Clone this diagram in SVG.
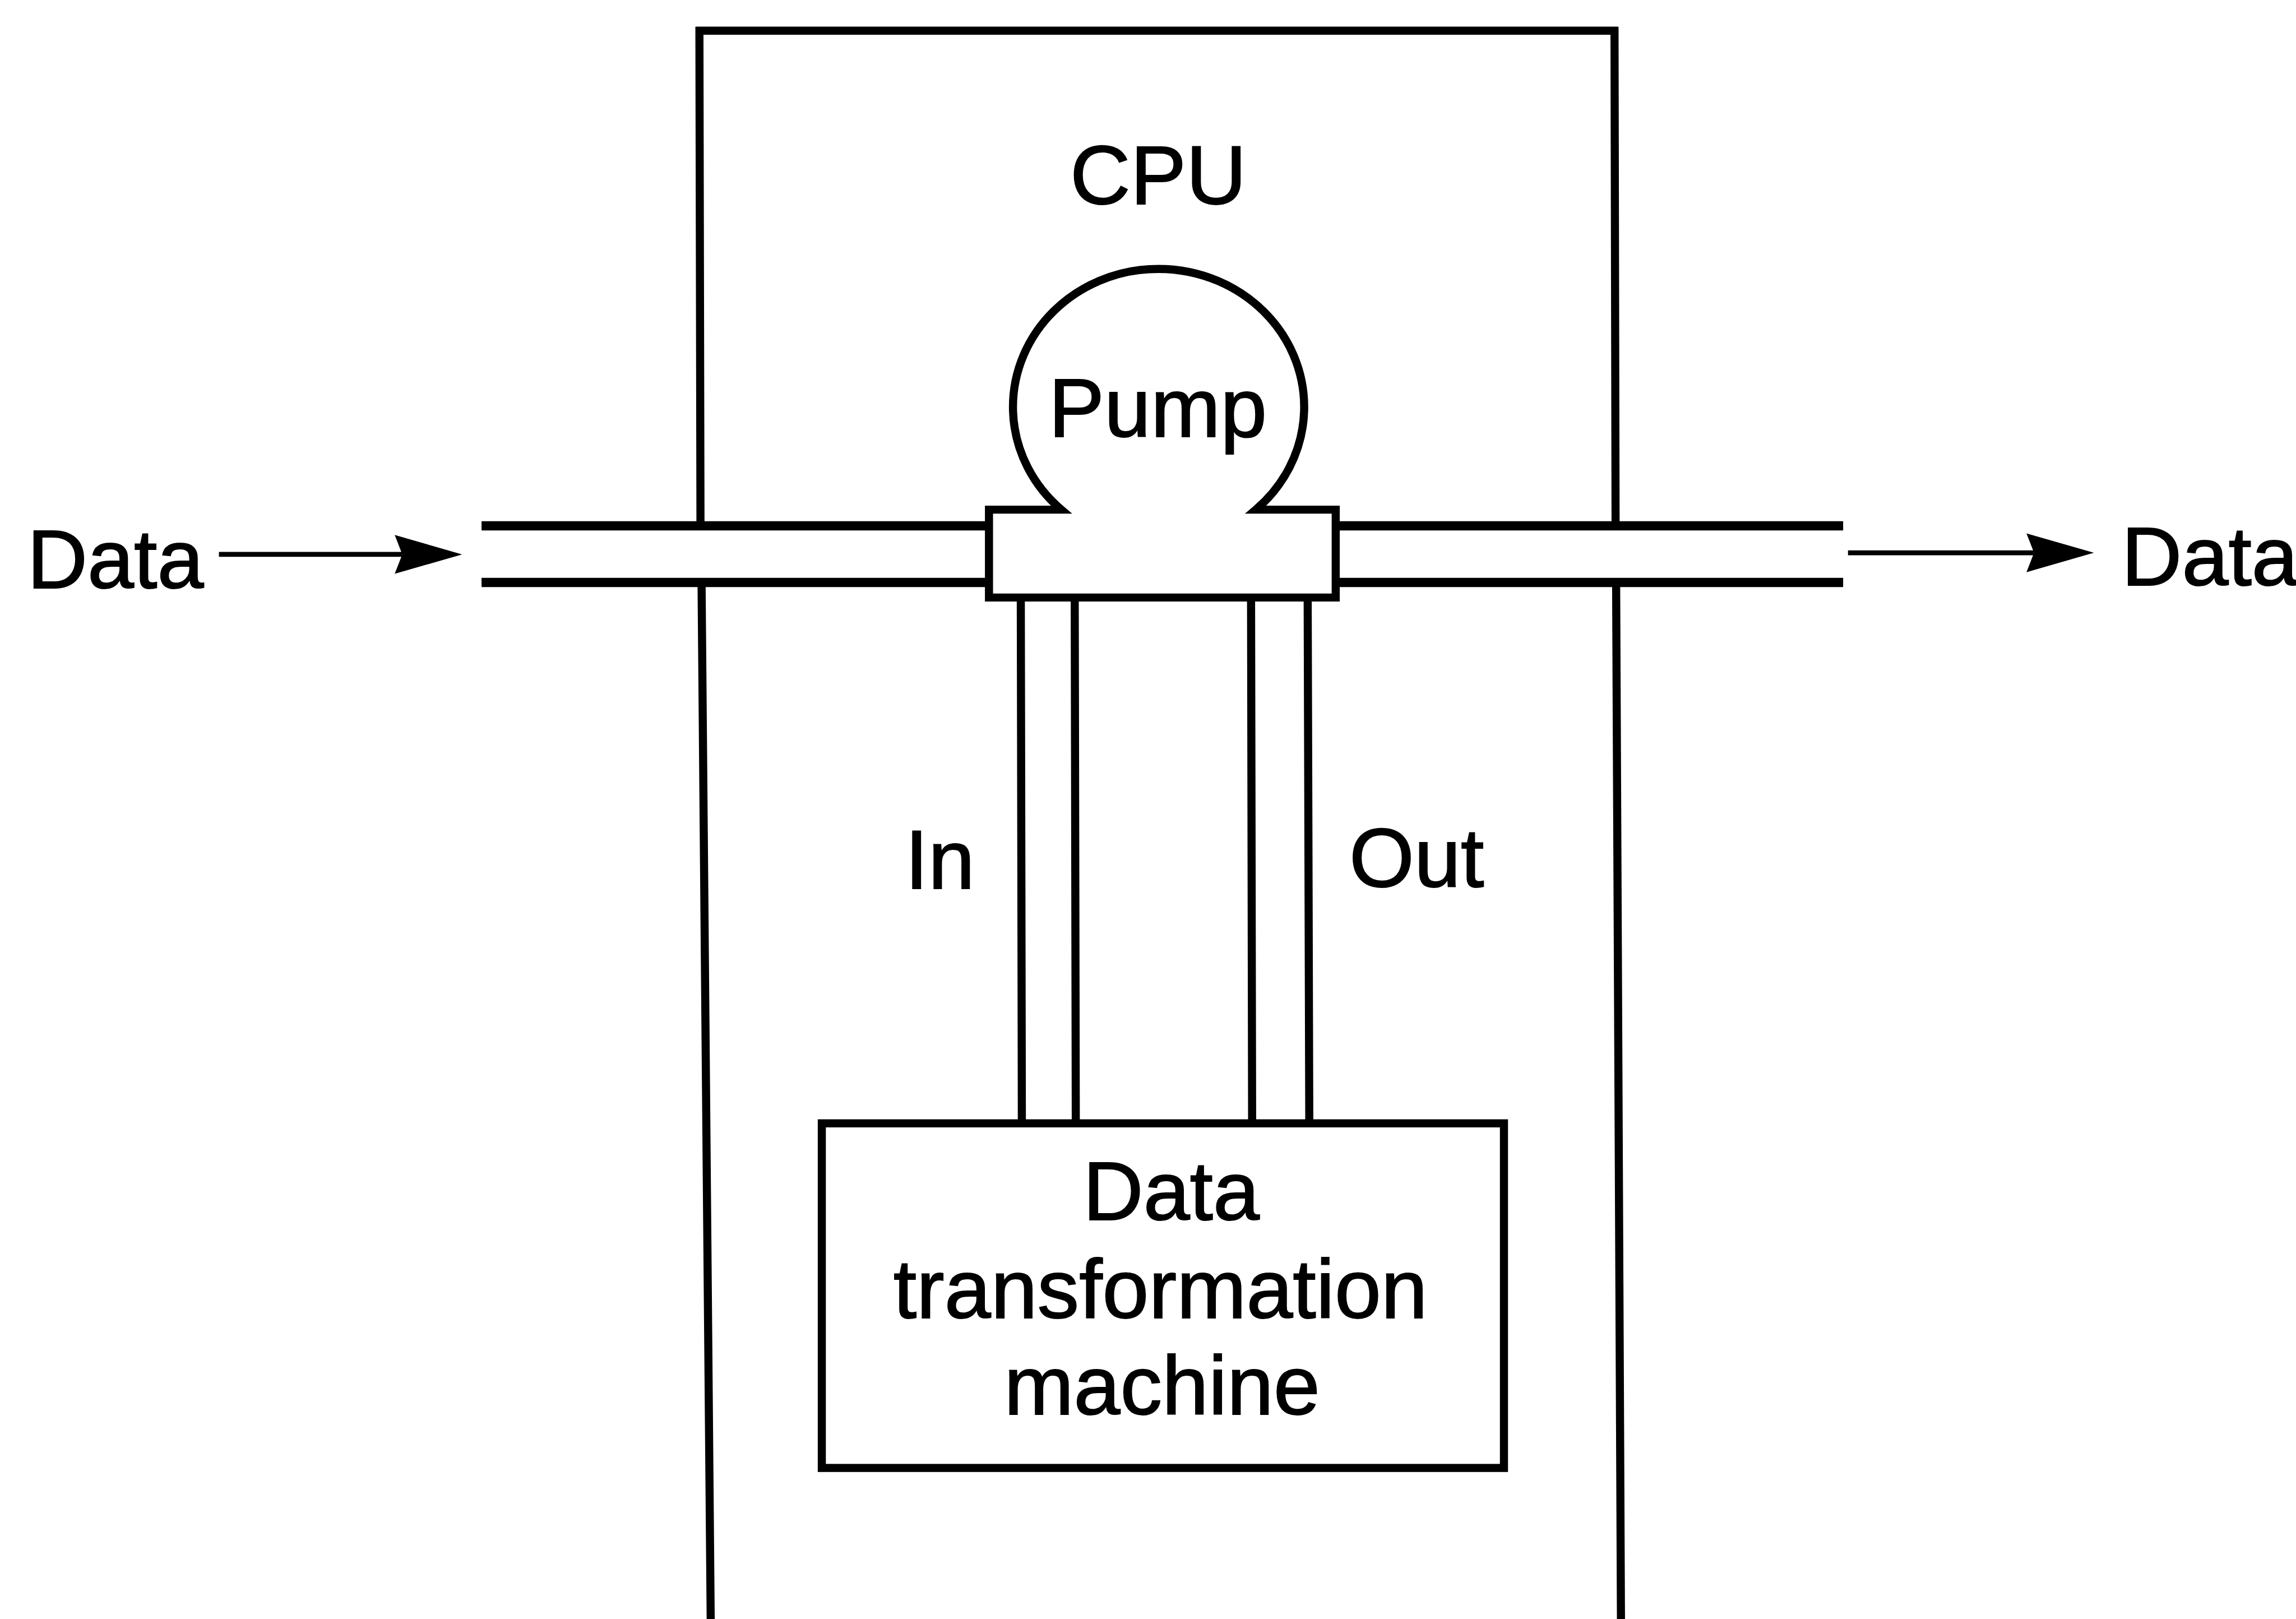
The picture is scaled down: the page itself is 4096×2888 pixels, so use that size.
<svg xmlns="http://www.w3.org/2000/svg" width="4096" height="2888" viewBox="0 0 4096 2888">
<style>
.ln{fill:none;stroke:#000;stroke-width:15;stroke-linejoin:miter;stroke-linecap:butt}
.pipe{fill:none;stroke:#000;stroke-width:17}
.arr{fill:none;stroke:#000;stroke-width:9}
.t{font-family:"Liberation Sans",Arial,sans-serif;font-size:155px;fill:#000;text-anchor:middle;stroke:#000;stroke-width:2}
</style>
<defs>
<marker id="ah" markerUnits="userSpaceOnUse" markerWidth="130" markerHeight="80" refX="14" refY="38" orient="auto" viewBox="0 0 130 80">
<path d="M125,38 L0,2 L14,38 L0,74 Z" fill="#000"/>
</marker>
</defs>
<rect width="4096" height="2888" fill="#fff"/>
<g transform="scale(0.962)">
<g id="cpu">
<path class="ln" d="M1297,50 L1299,975 M1301,1080 L1318,3010 M1290,57 L3001,57 M2994,50 L2996,975 M2997,1080 L3006,3010"/>
<text class="t" x="2148" y="378">CPU</text>
</g>
<g id="pump">
<path class="ln" d="M1834,1108 L1834,945 L1968,945 A270,256 0 1,1 2329,945 L2477,945 L2477,1108 Z"/>
<text class="t" x="2147" y="810">Pump</text>
</g>
<g id="dtm">
<rect class="ln" x="1524" y="2083" width="1265" height="639"/>
<text class="t" x="2172" y="2262">Data</text>
<text class="t" x="2152" y="2444">transformation</text>
<text class="t" x="2155" y="2623">machine</text>
</g>
<g id="labels">
<text class="t" x="214" y="1090">Data</text>
<text class="t" x="4098" y="1085">Data</text>
<text class="t" x="1743" y="1648">In</text>
<text class="t" x="2627" y="1645">Out</text>
</g>
<g id="connectors">
<path class="pipe" d="M893,975 L1834,975 M893,1080 L1834,1080"/>
<path class="pipe" d="M2477,975 L3418,975 M2477,1080 L3418,1080"/>
<path class="ln" d="M1893,1108 L1895,2083 M1993,1108 L1995,2083 M2320,1108 L2322,2083 M2425,1108 L2428,2083"/>
<line class="arr" x1="406" y1="1028" x2="746" y2="1028" marker-end="url(#ah)"/>
<line class="arr" x1="3427" y1="1025" x2="3772" y2="1025" marker-end="url(#ah)"/>
</g>
</g>
</svg>
